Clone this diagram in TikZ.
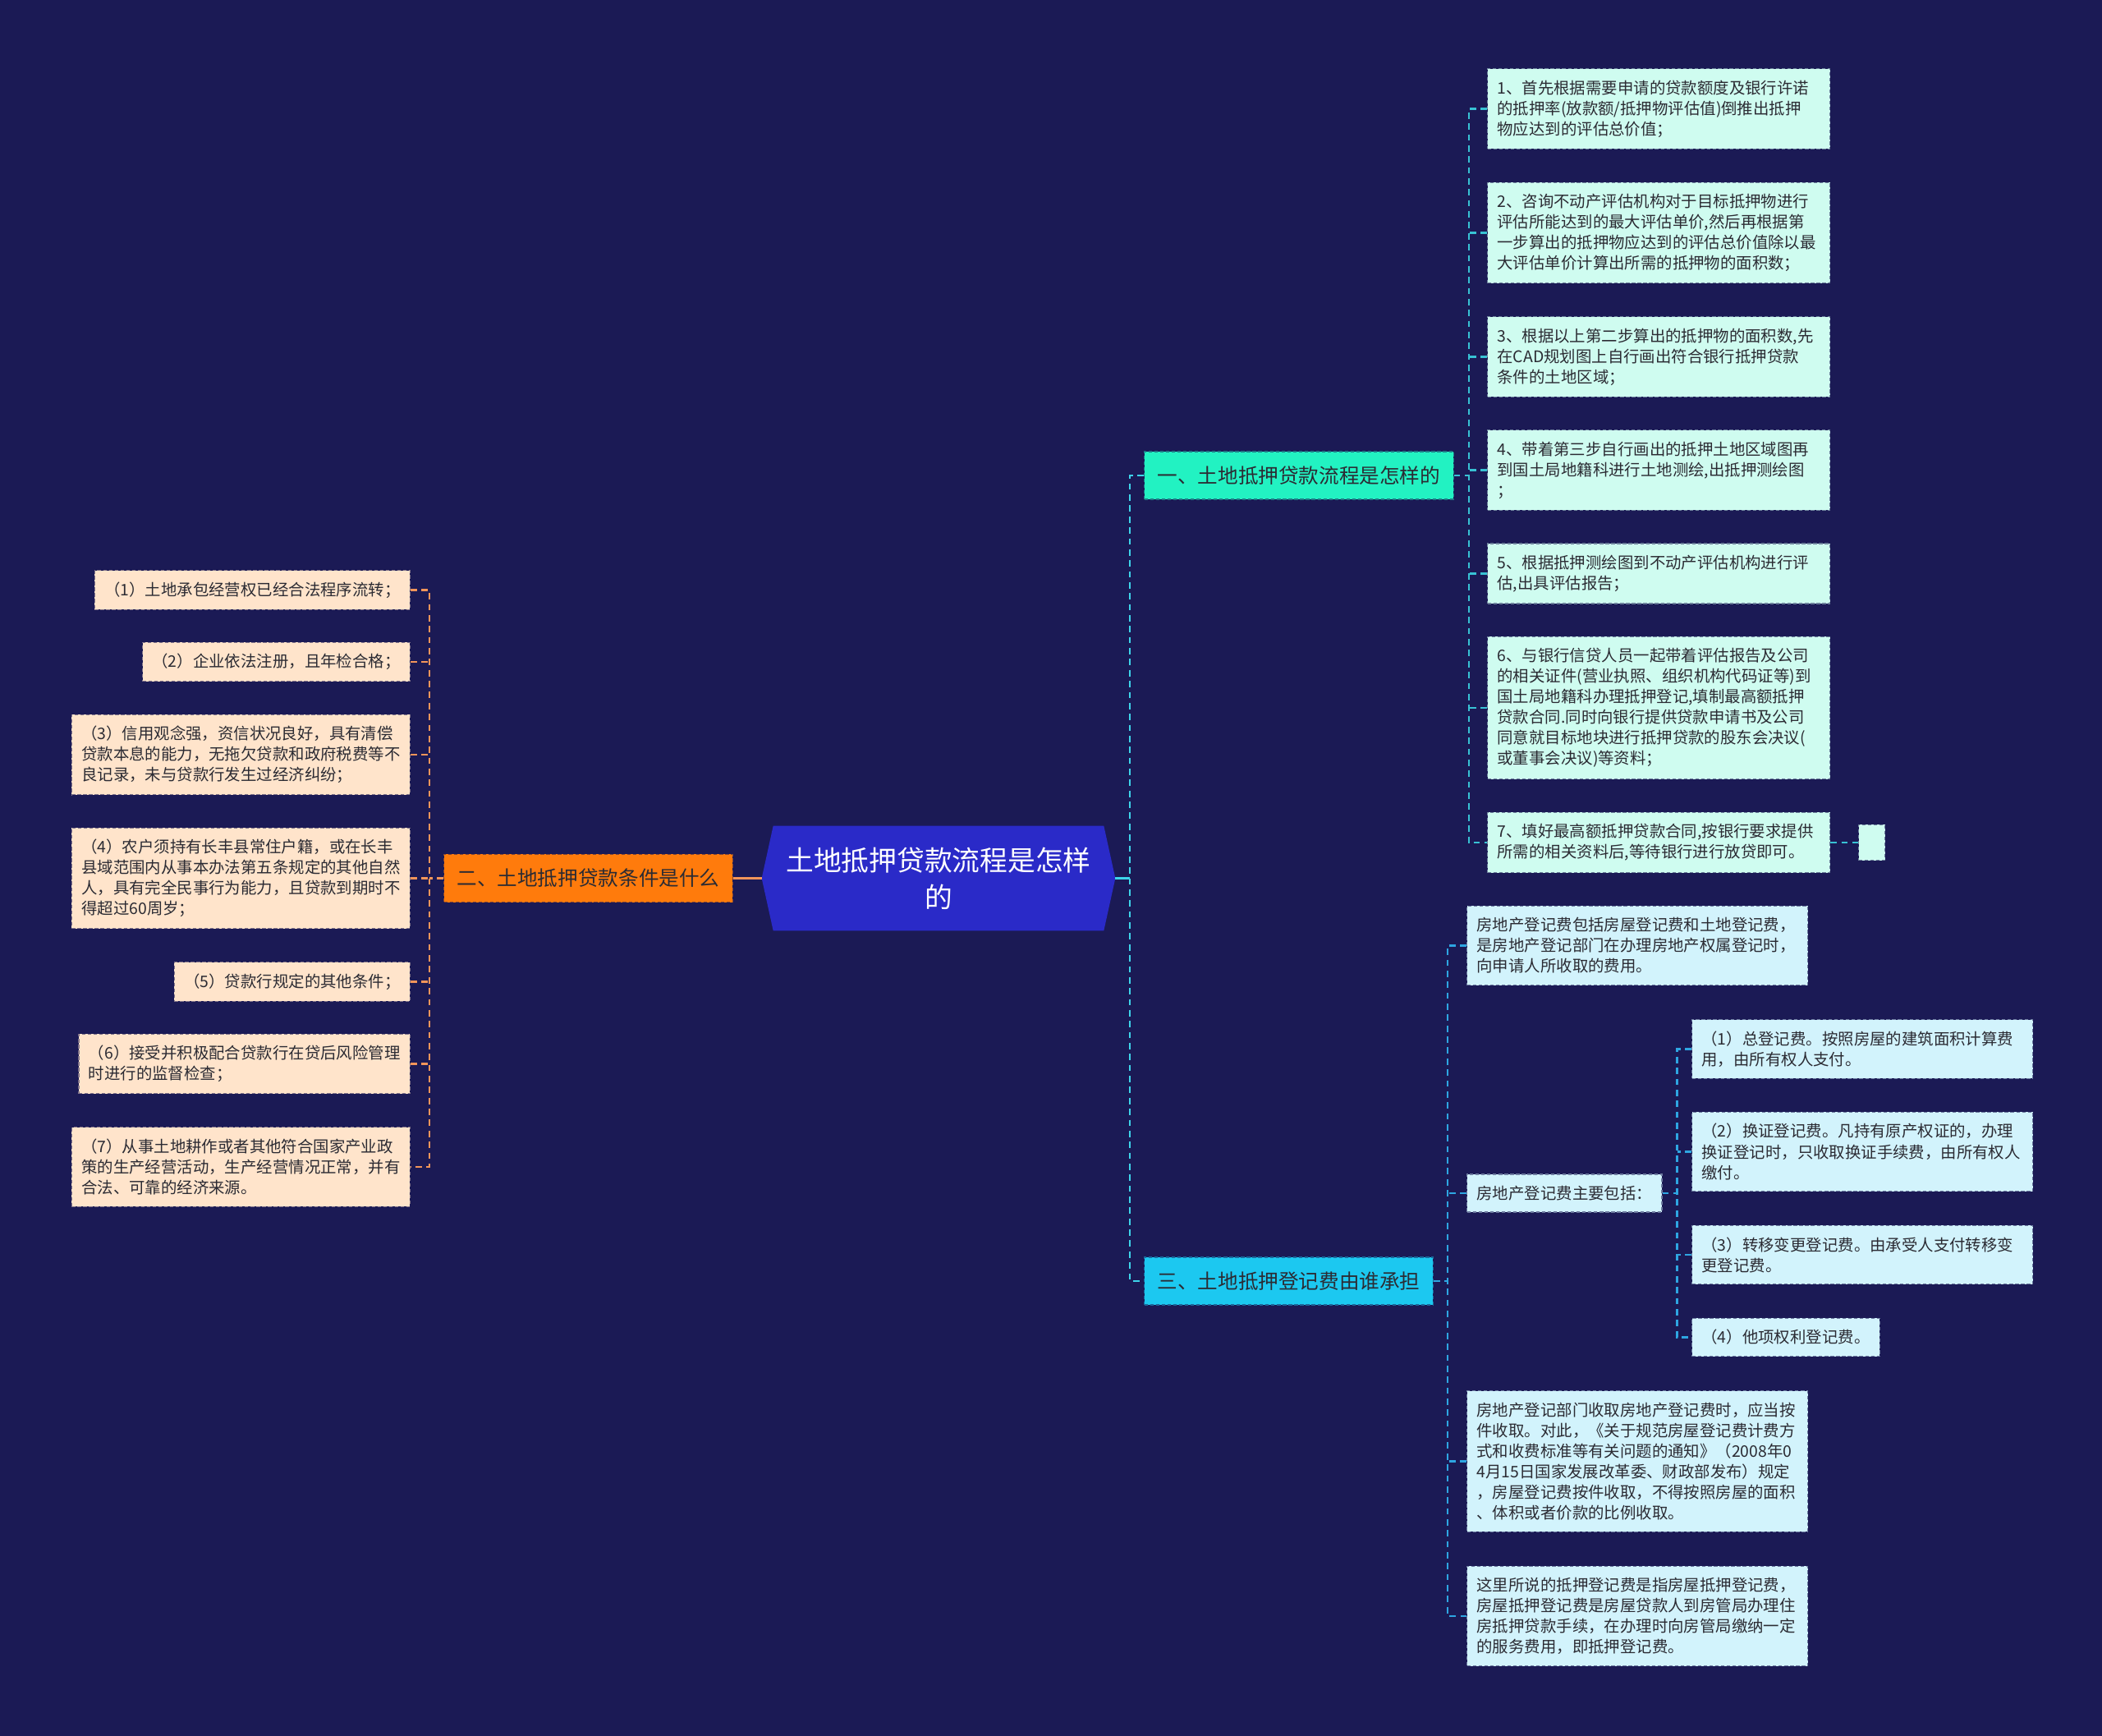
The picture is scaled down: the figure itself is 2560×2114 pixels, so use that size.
\documentclass[tikz,border=0pt]{standalone}
\usepackage{fontspec}
\setmainfont{Noto Sans CJK SC}
\usepackage{tikz}
\usetikzlibrary{backgrounds,calc}
\definecolor{cBg}{HTML}{1B1A55}
\definecolor{cRoot}{HTML}{2A2AC8}
\definecolor{cMint}{HTML}{22F2C2}
\definecolor{cCyan}{HTML}{1CC8F0}
\definecolor{cOrange}{HTML}{FF7B0C}
\definecolor{cPeach}{HTML}{FFE4CB}
\definecolor{cIce}{HTML}{CFFCF0}
\definecolor{cSky}{HTML}{D2F3FC}
\definecolor{cInk}{HTML}{2B2B33}
\definecolor{cLOra}{HTML}{F2955A}
\definecolor{cLTeal}{HTML}{38C2D4}
\definecolor{cLBlue}{HTML}{2EA6E2}
\definecolor{cLMain}{HTML}{3DD4EA}
\tikzset{
  trunk/.style={minimum width=10.75cm,minimum height=3.175cm,align=center,text=white,font=\fontsize{24pt}{32pt}\selectfont,inner sep=0pt},
  brbox/.style={draw=#1!45!cBg,fill=#1,dash pattern=on 3pt off 2pt,line width=0.8pt,font=\fontsize{17.5pt}{22pt}\selectfont,text=cInk,minimum height=1.45cm,inner xsep=0.4cm,inner ysep=0pt},
  leaf/.style={draw=#1!45!cBg,fill=#1,dash pattern=on 3pt off 2pt,line width=0.8pt,align=left,font=\fontsize{13.8pt}{17.8pt}\selectfont,text=cInk,inner xsep=0.3cm,inner ysep=0.35cm},
  rleaf/.style={leaf=#1,anchor=west,text width=9.825cm},
  sleaf/.style={leaf=#1,anchor=west,text width=9.775cm},
  lk/.style={draw=#1,line width=1.6pt,dash pattern=on 5.5pt off 4pt},
  trunklk/.style={draw=#1,line width=2pt},
}

\begin{document}
\begin{tikzpicture}[x=0.025cm,y=-0.025cm]
  \useasboundingbox (0,0) rectangle (2560,2114);
  % root and main branches
  \node[trunk] (root) at (1143,1069.5) {土地抵押贷款流程是怎样\\的};
  \node[brbox=cMint,anchor=west] (b1) at (1393,579) {一、土地抵押贷款流程是怎样的};
  \node[brbox=cOrange,anchor=east] (b2) at (893,1069.5) {二、土地抵押贷款条件是什么};
  \node[brbox=cCyan,anchor=west] (b3) at (1393,1560) {三、土地抵押登记费由谁承担};
  \begin{scope}[on background layer]
    \fill[cBg] (0,0) rectangle (2560,2114);
    \fill[cRoot] (root.west) -- ([xshift=0.35cm]root.north west) -- ([xshift=-0.35cm]root.north east)
      -- (root.east) -- ([xshift=-0.35cm]root.south east) -- ([xshift=0.35cm]root.south west) -- cycle;
  \end{scope}

  % loan procedure
  \node[rleaf=cIce] (r1) at (1811,132.5) {1、首先根据需要申请的贷款额度及银行许诺\\的抵押率(放款额/抵押物评估值)倒推出抵押\\物应达到的评估总价值；};
  \node[rleaf=cIce] (r2) at (1811,283.5) {2、咨询不动产评估机构对于目标抵押物进行\\评估所能达到的最大评估单价,然后再根据第\\一步算出的抵押物应达到的评估总价值除以最\\大评估单价计算出所需的抵押物的面积数；};
  \node[rleaf=cIce] (r3) at (1811,434.5) {3、根据以上第二步算出的抵押物的面积数,先\\在CAD规划图上自行画出符合银行抵押贷款\\条件的土地区域；};
  \node[rleaf=cIce] (r4) at (1811,572.5) {4、带着第三步自行画出的抵押土地区域图再\\到国土局地籍科进行土地测绘,出抵押测绘图\\；};
  \node[rleaf=cIce] (r5) at (1811,698.5) {5、根据抵押测绘图到不动产评估机构进行评\\估,出具评估报告；};
  \node[rleaf=cIce] (r6) at (1811,862) {6、与银行信贷人员一起带着评估报告及公司\\的相关证件(营业执照、组织机构代码证等)到\\国土局地籍科办理抵押登记,填制最高额抵押\\贷款合同.同时向银行提供贷款申请书及公司\\同意就目标地块进行抵押贷款的股东会决议(\\或董事会决议)等资料；};
  \node[rleaf=cIce] (r7) at (1811,1026) {7、填好最高额抵押贷款合同,按银行要求提供\\所需的相关资料后,等待银行进行放贷即可。};
  \node[leaf=cIce,anchor=west,inner sep=0pt,minimum width=0.8cm,minimum height=1.075cm] (r7x) at (2263,1026) {};

  % conditions
  \node[leaf=cPeach,anchor=east] (l1) at (500,718.5) {（1）土地承包经营权已经合法程序流转；};
  \node[leaf=cPeach,anchor=east] (l2) at (500,806) {（2）企业依法注册，且年检合格；};
  \node[leaf=cPeach,anchor=east] (l3) at (500,919) {（3）信用观念强，资信状况良好，具有清偿\\贷款本息的能力，无拖欠贷款和政府税费等不\\良记录，未与贷款行发生过经济纠纷；};
  \node[leaf=cPeach,anchor=east] (l4) at (500,1069.5) {（4）农户须持有长丰县常住户籍，或在长丰\\县域范围内从事本办法第五条规定的其他自然\\人，具有完全民事行为能力，且贷款到期时不\\得超过60周岁；};
  \node[leaf=cPeach,anchor=east] (l5) at (500,1195.5) {（5）贷款行规定的其他条件；};
  \node[leaf=cPeach,anchor=east] (l6) at (500,1295.5) {（6）接受并积极配合贷款行在贷后风险管理\\时进行的监督检查；};
  \node[leaf=cPeach,anchor=east] (l7) at (500,1421) {（7）从事土地耕作或者其他符合国家产业政\\策的生产经营活动，生产经营情况正常，并有\\合法、可靠的经济来源。};

  % registration fee
  \node[sleaf=cSky] (s1) at (1786,1151.5) {房地产登记费包括房屋登记费和土地登记费，\\是房地产登记部门在办理房地产权属登记时，\\向申请人所收取的费用。};
  \node[leaf=cSky,anchor=west] (s2) at (1786,1453) {房地产登记费主要包括：};
  \node[sleaf=cSky] (s3) at (1786,1779.5) {房地产登记部门收取房地产登记费时，应当按\\件收取。对此，《关于规范房屋登记费计费方\\式和收费标准等有关问题的通知》（2008年0\\4月15日国家发展改革委、财政部发布）规定\\，房屋登记费按件收取，不得按照房屋的面积\\、体积或者价款的比例收取。};
  \node[sleaf=cSky] (s4) at (1786,1968) {这里所说的抵押登记费是指房屋抵押登记费，\\房屋抵押登记费是房屋贷款人到房管局办理住\\房抵押贷款手续，在办理时向房管局缴纳一定\\的服务费用，即抵押登记费。};
  \node[sleaf=cSky] (c1) at (2060,1277.5) {（1）总登记费。按照房屋的建筑面积计算费\\用，由所有权人支付。};
  \node[sleaf=cSky] (c2) at (2060,1402.5) {（2）换证登记费。凡持有原产权证的，办理\\换证登记时，只收取换证手续费，由所有权人\\缴付。};
  \node[sleaf=cSky] (c3) at (2060,1528) {（3）转移变更登记费。由承受人支付转移变\\更登记费。};
  \node[leaf=cSky,anchor=west] (c4) at (2060,1628.5) {（4）他项权利登记费。};

  % connectors
  \draw[lk=cLMain] (b1.west) -- ++(-17,0) coordinate (msp) |- (b3.west);
  \draw[trunklk=cLMain] (root.east) -- (root.east -| msp);
  \draw[trunklk=cLOra] (root.west) -- (b2.east);
  \draw[lk=cLOra] (b2.west) -- ++(-17,0) coordinate (lsp);
  \draw[lk=cLOra] (l1.east) -- (l1.east -| lsp) -- (l7.east -| lsp) -- (l7.east);
  \foreach \i in {2,...,6}{\draw[lk=cLOra] (l\i.east) -- (l\i.east -| lsp);}
  \draw[lk=cLTeal] (b1.east) -- ++(18,0) coordinate (rsp);
  \draw[lk=cLTeal] (r1.west) -- (r1.west -| rsp) -- (r7.west -| rsp) -- (r7.west);
  \foreach \i in {2,...,6}{\draw[lk=cLTeal] (r\i.west) -- (r\i.west -| rsp);}
  \draw[lk=cLTeal] (r7.east) -- (r7x.west);
  \draw[lk=cLBlue] (b3.east) -- ++(17,0) coordinate (bsp);
  \draw[lk=cLBlue] (s1.west) -- (s1.west -| bsp) -- (s4.west -| bsp) -- (s4.west);
  \foreach \i in {2,3}{\draw[lk=cLBlue] (s\i.west) -- (s\i.west -| bsp);}
  \draw[lk=cLBlue] (s2.east) -- ++(18,0) coordinate (csp);
  \draw[lk=cLBlue] (c1.west) -- (c1.west -| csp) -- (c4.west -| csp) -- (c4.west);
  \foreach \i in {2,3}{\draw[lk=cLBlue] (c\i.west) -- (c\i.west -| csp);}
\end{tikzpicture}
\end{document}
